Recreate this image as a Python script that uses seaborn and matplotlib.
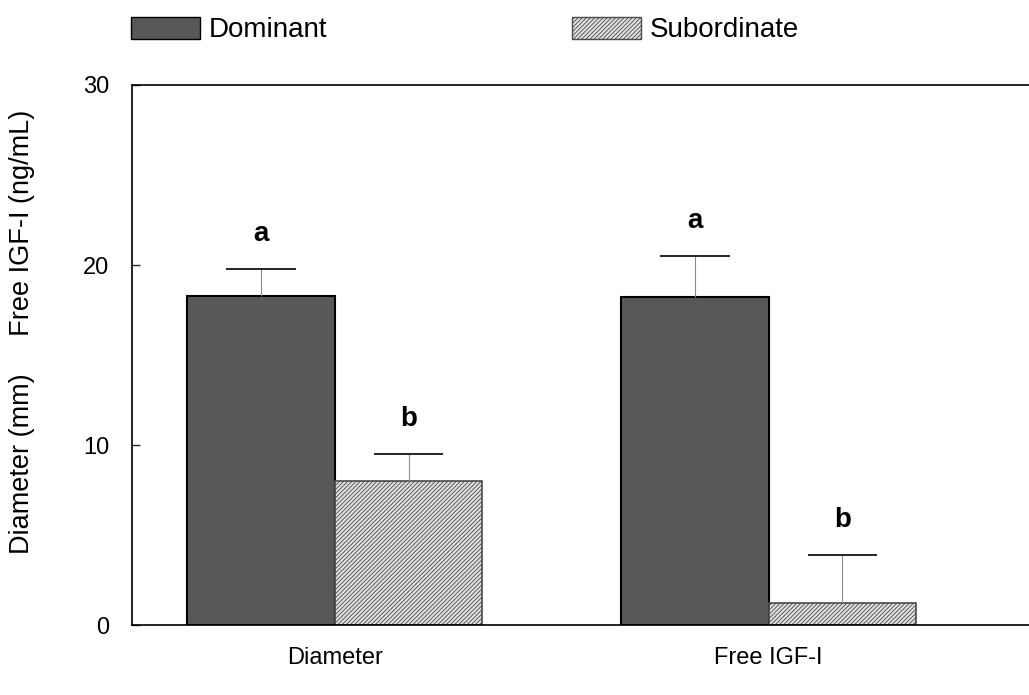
import numpy as np
import pandas as pd
import seaborn as sns
import matplotlib.pyplot as plt
from matplotlib.patches import Patch

# data
measures = ["Diameter", "Free IGF-I"]
groups = ["Dominant", "Subordinate"]
dominant_mean = [18.3, 18.2]
dominant_err = [1.5, 2.3]
subordinate_mean = [8.0, 1.2]
subordinate_err = [1.5, 2.7]
dominant_letter = ["a", "a"]
subordinate_letter = ["b", "b"]

df = pd.DataFrame({
    "measure": measures * 2,
    "group": ["Dominant"] * 2 + ["Subordinate"] * 2,
    "value": dominant_mean + subordinate_mean,
})

sns.set_style("white")
plt.rcParams["font.family"] = ["Liberation Sans", "DejaVu Sans"]
plt.rcParams["hatch.linewidth"] = 0.6

dark = "#585858"
light = "#e0e0e0"

fig = plt.figure(figsize=(10.29, 6.95), dpi=100)
ax = fig.add_axes([0.128, 0.1007, 0.872, 0.7770])

sns.barplot(data=df, x="measure", y="value", hue="group", order=measures,
            hue_order=groups, palette=[dark, light], width=0.68,
            errorbar=None, legend=False, ax=ax)

errs = [dominant_err, subordinate_err]
letters = [dominant_letter, subordinate_letter]
for i, cont in enumerate(ax.containers):
    for j, bar in enumerate(cont):
        if i == 0:
            bar.set_edgecolor("black")
            bar.set_linewidth(1.5)
        else:
            bar.set_edgecolor("#4a4a4a")
            bar.set_hatch("////////")
            bar.set_linewidth(1.2)
        xc = bar.get_x() + bar.get_width() / 2
        h = bar.get_height()
        top = h + errs[i][j]
        ax.vlines(xc, h, top, color="0.55", lw=0.8, zorder=3)
        ax.hlines(top, xc - 0.08, xc + 0.08, color="black", lw=1.2, zorder=3)
        ax.text(xc, top + 1.2, letters[i][j], ha="center", va="bottom",
                fontsize=20, fontweight="bold", color="black")

ax.set_xlim(-0.468, 1.6)
ax.set_ylim(0, 30)
ax.set_yticks([0, 10, 20, 30])
ax.tick_params(axis="y", direction="in", length=6, width=1, pad=16,
               labelsize=17, left=True, labelcolor="black")
ax.tick_params(axis="x", length=0, pad=16, labelsize=17, labelcolor="black")
ax.set_xlabel("")
ax.set_ylabel("")
fig.text(22 / 1029, 1 - 332 / 695, "Diameter (mm)     Free IGF-I (ng/mL)",
         rotation=90, ha="center", va="center", fontsize=19.5, color="black")

for side in ["left", "top", "bottom"]:
    ax.spines[side].set_visible(True)
    ax.spines[side].set_color("black")
    ax.spines[side].set_linewidth(1.2)
ax.spines["right"].set_visible(False)

handles = [
    Patch(facecolor=dark, edgecolor="black", label="Dominant"),
    Patch(facecolor=light, edgecolor="#4a4a4a", hatch="////////", label="Subordinate"),
]
leg = fig.legend(handles=handles, loc="upper left", bbox_to_anchor=(0.103, 1.012),
                 ncol=2, frameon=False, fontsize=20, handlelength=2.5,
                 handleheight=0.85, handletextpad=0.3, columnspacing=8.8)
for t in leg.get_texts():
    t.set_color("black")

fig.savefig("out.png", dpi=100)
